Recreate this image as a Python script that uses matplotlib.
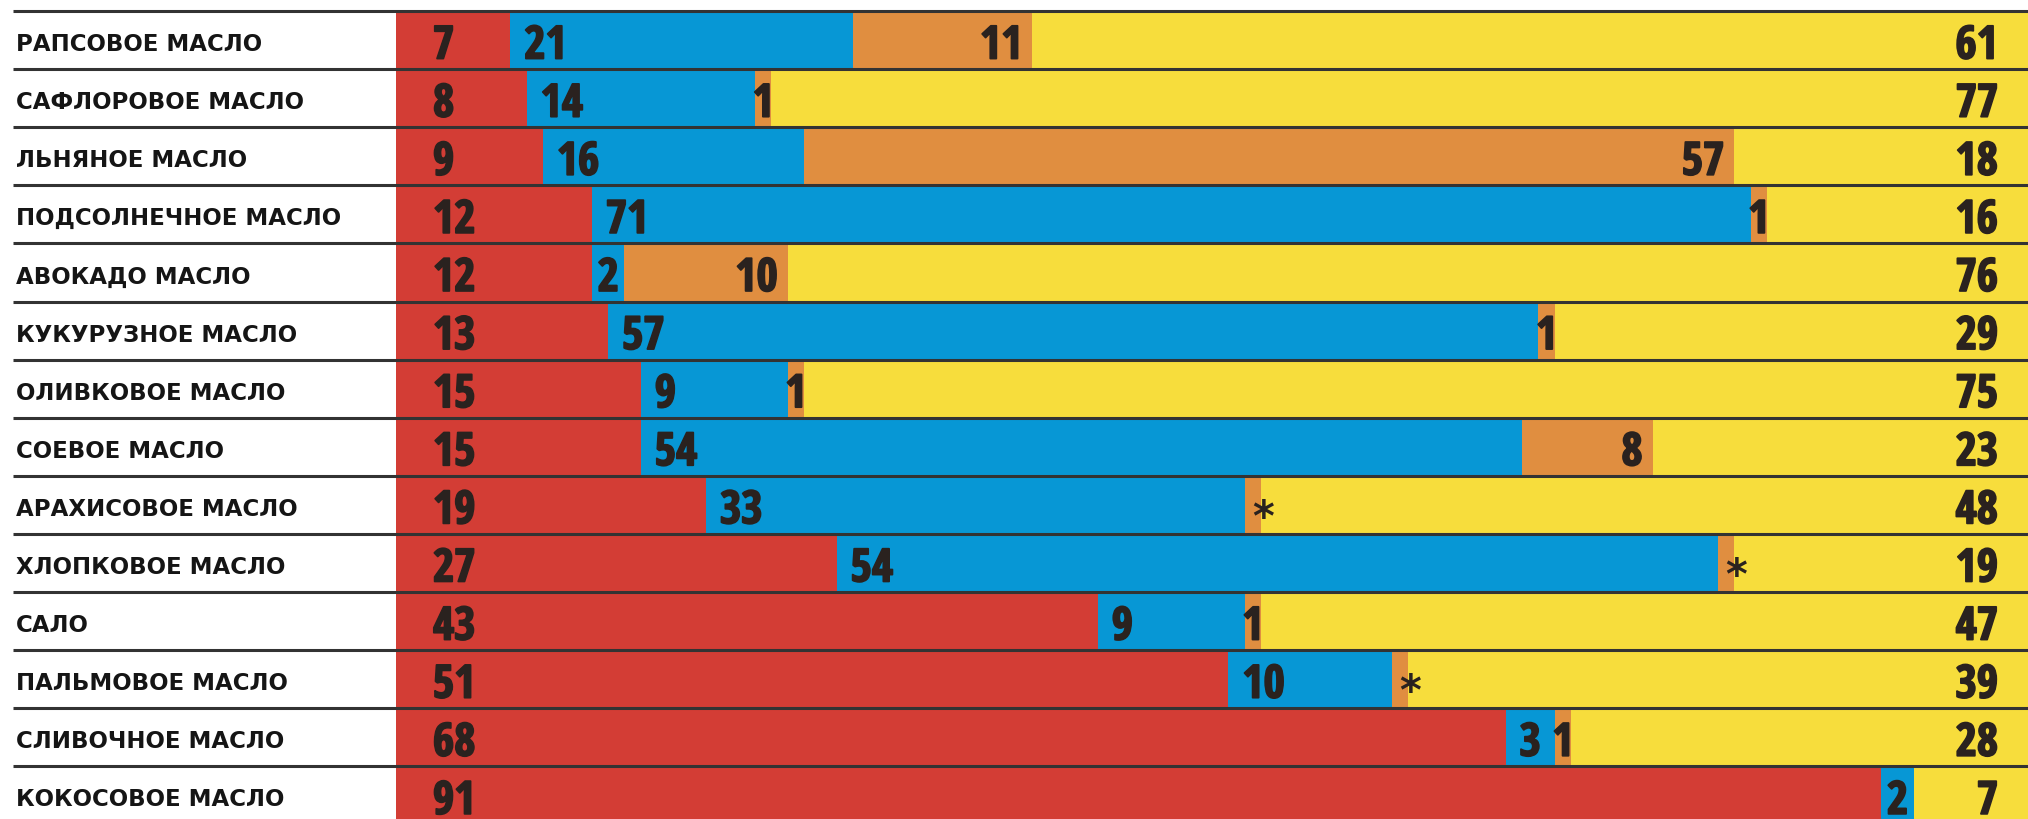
import numpy as np
import matplotlib.pyplot as plt
import matplotlib.patheffects as pe
from matplotlib import font_manager as fm

# --- Data (percent of fat by type) ---
oils = ['РАПСОВОЕ МАСЛО', 'САФЛОРОВОЕ МАСЛО', 'ЛЬНЯНОЕ МАСЛО', 'ПОДСОЛНЕЧНОЕ МАСЛО',
        'АВОКАДО МАСЛО', 'КУКУРУЗНОЕ МАСЛО', 'ОЛИВКОВОЕ МАСЛО', 'СОЕВОЕ МАСЛО',
        'АРАХИСОВОЕ МАСЛО', 'ХЛОПКОВОЕ МАСЛО', 'САЛО', 'ПАЛЬМОВОЕ МАСЛО',
        'СЛИВОЧНОЕ МАСЛО', 'КОКОСОВОЕ МАСЛО']
saturated = [7, 8, 9, 12, 12, 13, 15, 15, 19, 27, 43, 51, 68, 91]
linoleic = [21, 14, 16, 71, 2, 57, 9, 54, 33, 54, 9, 10, 3, 2]
# np.nan = trace amount, shown as "*"
alpha_lin = [11, 1, 57, 1, 10, 1, 1, 8, np.nan, np.nan, 1, np.nan, 1, 0]
monounsat = [61, 77, 18, 16, 76, 29, 75, 23, 48, 19, 47, 39, 28, 7]

colors = ['#D33D35', '#0797D5', '#E08E40', '#F7DD3C']
txt_col = '#2a221f'
TRACE = 1.0

# --- pick a condensed heavy font for the numbers, if one is installed ---
prefs = ['NotoSans-CondensedExtraBold', 'NotoSans-CondensedBold',
         'NotoSans-ExtraCondensedExtraBold', 'NotoSans-ExtraCondensedBold',
         'OpenSans-CondBold', 'OpenSans_Condensed-Bold',
         'RobotoCondensed-Bold', 'LiberationSansNarrow-Bold',
         'DejaVuSansCondensed-Bold']
files = [f.fname for f in fm.fontManager.ttflist]
num_prop = None
for p in prefs:
    hit = [f for f in files if f.split('/')[-1].startswith(p + '.')]
    if hit:
        num_prop = fm.FontProperties(fname=hit[0], size=33)
        break
if num_prop is None:
    num_prop = fm.FontProperties(family='DejaVu Sans', weight='bold', size=30)
heavy = [pe.withStroke(linewidth=1.3, foreground=txt_col)]

# --- Layout (pixels) ---
W, H = 2028, 819
x0_px, top_px, row_px = 396, 11, 58.1
unit = (W - x0_px) / 100.0
px = 1.0 / unit          # one pixel in x data units
py = 1.0 / row_px        # one pixel in y data units

fig = plt.figure(figsize=(W / 100, H / 100), dpi=100)
ax = fig.add_axes([0, 0, 1, 1])
ax.set_xlim(-x0_px * px, 100)
ax.set_ylim((H - top_px) * py, -top_px * py)
ax.axis('off')

base_off = 18.5 * py   # baseline below row centre


def num(x, y, s, ha):
    ax.text(x, y + base_off, s, ha=ha, va='baseline', fontproperties=num_prop,
            color=txt_col, zorder=4, path_effects=heavy)


n = len(oils)
for i in range(n):
    yc = i + 0.5
    r, b, o, m = saturated[i], linoleic[i], alpha_lin[i], monounsat[i]
    trace = np.isnan(o)
    ow = TRACE if trace else o
    lefts = [0, r, r + b, r + b + ow]
    widths = [r, b, ow, m]
    for k in range(4):
        if widths[k] > 0:
            ax.barh(yc, widths[k], left=lefts[k], height=1.0, color=colors[k], linewidth=0)

    num(37 * px, yc, str(r), 'left')
    if b <= 3:
        num(r + b / 2, yc, str(b), 'center')
    else:
        num(r + 14 * px, yc, str(b), 'left')
    if trace:
        ax.text(r + b + ow + 2 * px, yc + 26 * py, '*', ha='center', va='baseline',
                fontsize=30, fontweight='bold', color=txt_col, family='DejaVu Sans',
                zorder=4)
    elif o > 0:
        if o <= 3:
            num(r + b + o / 2, yc, str(o), 'center')
        else:
            num(r + b + o - 10 * px, yc, str(o), 'right')
    num(100 - 30 * px, yc, str(m), 'right')

    ax.text((16 - x0_px) * px, yc + 11 * py, oils[i], ha='left', va='baseline',
            fontsize=16.5, fontweight='bold', color='#151515', family='DejaVu Sans')

# row separators
for k in range(n + 1):
    ax.plot([(13 - x0_px) * px, 100], [k, k], color='#333333', lw=2.2,
            solid_capstyle='butt', zorder=5)

fig.savefig('out.png', dpi=100)
